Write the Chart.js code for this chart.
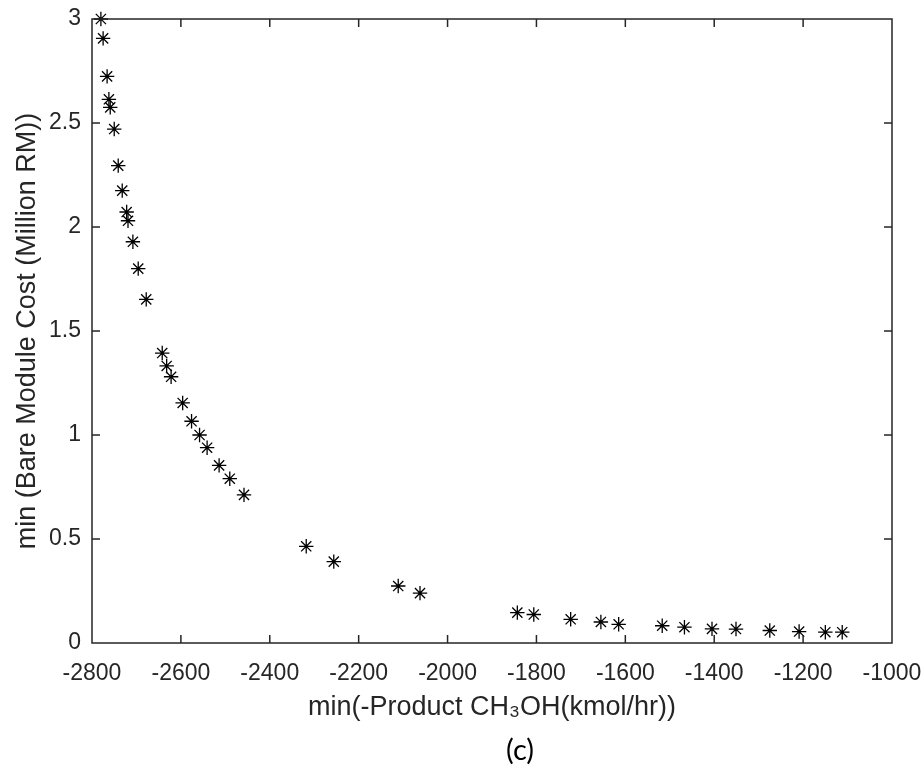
<!DOCTYPE html>
<html>
<head>
<meta charset="utf-8">
<script src="https://cdn.jsdelivr.net/npm/chart.js@4/dist/chart.umd.min.js"></script>
<style>
html,body{margin:0;padding:0;background:#fff;}
canvas{display:block;}
</style>
</head>
<body>
<canvas id="c" width="924" height="767"></canvas>
<script>
// Data
const productCH3OH = [-2780,-2775,-2766,-2762,-2759,-2750,-2741,-2732,-2722,-2719,-2708,-2696,-2678,-2642,-2632,-2622,-2596,-2576,-2558,-2541,-2514,-2490,-2458,-2318,-2256,-2111,-2062,-1843,-1806,-1723,-1655,-1615,-1517,-1467,-1405,-1351,-1275,-1209,-1150,-1112];
const bareModuleCost = [3.0,2.907,2.724,2.614,2.575,2.471,2.295,2.175,2.072,2.030,1.929,1.800,1.652,1.394,1.332,1.280,1.154,1.066,1.000,0.939,0.854,0.790,0.712,0.465,0.391,0.274,0.240,0.146,0.137,0.114,0.101,0.090,0.083,0.076,0.068,0.067,0.060,0.055,0.052,0.052];
const xTickValues = [-2800,-2600,-2400,-2200,-2000,-1800,-1600,-1400,-1200,-1000];
const yTickValues = [0,0.5,1,1.5,2,2.5,3];
const xTitle = 'min(-Product CH\u2083OH(kmol/hr))';
const yTitle = 'min (Bare Module Cost (Million RM))';
const panelLabel = '(c)';

const points = productCH3OH.map((x, i) => ({x: x, y: bareModuleCost[i]}));
const axisColor = '#262626';
const FONT = "'Liberation Sans', Arial, sans-serif";

const boxPlugin = {
  id: 'matlabBox',
  afterDatasetsDraw(chart) {
    const {ctx, chartArea: a, scales} = chart;
    ctx.save();
    ctx.strokeStyle = axisColor;
    ctx.lineWidth = 1.5;
    ctx.beginPath();
    ctx.rect(a.left, a.top, a.right - a.left, a.bottom - a.top);
    const tl = 8;
    scales.x.ticks.forEach(t => {
      const px = scales.x.getPixelForValue(t.value);
      ctx.moveTo(px, a.bottom); ctx.lineTo(px, a.bottom - tl);
      ctx.moveTo(px, a.top); ctx.lineTo(px, a.top + tl);
    });
    scales.y.ticks.forEach(t => {
      const py = scales.y.getPixelForValue(t.value);
      ctx.moveTo(a.left, py); ctx.lineTo(a.left + tl, py);
      ctx.moveTo(a.right, py); ctx.lineTo(a.right - tl, py);
    });
    ctx.stroke();
    // panel label below the axis title
    ctx.fillStyle = '#000';
    ctx.font = "29px Lato, 'Open Sans', sans-serif";
    ctx.textAlign = 'center';
    ctx.textBaseline = 'middle';
    ctx.fillText(panelLabel, 520, 751);
    ctx.restore();
  }
};

new Chart(document.getElementById('c'), {
  type: 'scatter',
  data: {
    datasets: [{
      data: points,
      pointStyle: 'star',
      pointRadius: 7.2,
      pointHoverRadius: 7.2,
      borderColor: '#000',
      backgroundColor: '#000',
      borderWidth: 1.3,
      clip: false
    }]
  },
  options: {
    responsive: false,
    animation: false,
    devicePixelRatio: 1,
    layout: {padding: {top: 19, right: 32, left: 0, bottom: 34}},
    plugins: {
      legend: {display: false},
      tooltip: {enabled: false},
      title: {display: false}
    },
    scales: {
      x: {
        type: 'linear',
        min: -2800, max: -1000,
        afterBuildTicks: s => { s.ticks = xTickValues.map(v => ({value: v})); },
        afterFit: s => { s.height = 90; s.paddingLeft = 0; s.paddingRight = 0; },
        grid: {display: false, drawTicks: false},
        border: {display: false},
        ticks: {
          color: axisColor,
          font: {family: FONT, size: 23},
          padding: 17,
          maxRotation: 0,
          autoSkip: false,
          callback: v => String(v)
        },
        title: {
          display: true,
          text: xTitle,
          color: axisColor,
          font: {family: FONT, size: 27, lineHeight: 1.2},
          padding: {top: 0, bottom: 9}
        }
      },
      y: {
        type: 'linear',
        min: 0, max: 3,
        afterBuildTicks: s => { s.ticks = yTickValues.map(v => ({value: v})); },
        afterFit: s => { s.width = 92; s.paddingTop = 0; s.paddingBottom = 0; },
        grid: {display: false, drawTicks: false},
        border: {display: false},
        ticks: {
          color: axisColor,
          font: {family: FONT, size: 23},
          padding: 11,
          autoSkip: false,
          callback: v => String(v)
        },
        title: {
          display: true,
          text: yTitle,
          color: axisColor,
          font: {family: FONT, size: 27, lineHeight: 1.2},
          padding: {top: 11, bottom: 0}
        }
      }
    }
  },
  plugins: [boxPlugin]
});
</script>
</body>
</html>
